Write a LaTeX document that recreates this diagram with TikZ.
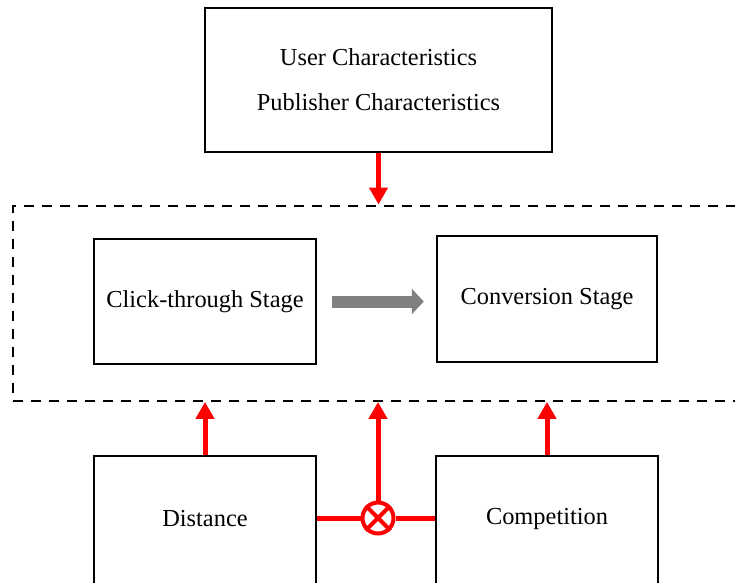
\documentclass[tikz,border=0pt]{standalone}
\usepackage{fontspec}
\setmainfont{Liberation Serif}
\usetikzlibrary{arrows.meta}
\begin{document}
\begin{tikzpicture}[x=1pt,y=1pt,
  box/.style={draw=black,line width=2.5pt,minimum width=#1,inner sep=0pt},
  txt/.style={font=\fontsize{24.4}{45}\selectfont,align=center,inner sep=0pt},
  redarrow/.style={draw=red,line width=5pt,-{Triangle[length=17pt,width=18pt]}},
  redline/.style={draw=red,line width=5pt},
  grayarrow/.style={draw={rgb,255:red,128;green,128;blue,128},line width=12pt,-{Triangle[length=12pt,width=25pt]}}
]
\useasboundingbox (0,0) rectangle (735,-582);
\clip (0,0) rectangle (735,-582);
% dashed container
\node[draw=black,line width=2.4pt,dash pattern=on 10pt off 8pt,minimum width=732pt,minimum height=195pt,inner sep=0pt] (dash) at (379,-303.2) {};
% boxes
\node[box=347pt,minimum height=144pt,txt] (top) at (378.5,-80) {User Characteristics\\Publisher Characteristics};
\node[box=222pt,minimum height=125pt,txt] (click) at (205,-301.5) {Click-through Stage};
\node[box=220pt,minimum height=126pt,txt] (conv) at (547,-299) {Conversion Stage};
\node[box=222pt,minimum height=144pt] (dist) at (205,-528) {};
\node[txt] (distT) at (205,-519) {Distance};
\node[box=222pt,minimum height=144pt] (comp) at (547,-528) {};
\node[txt] (compT) at (547,-519) {Competition};
% otimes
\node[circle,draw=red,line width=4pt,minimum size=31pt,inner sep=0pt] (ot) at (378,-518) {};
\draw[red,line width=4pt] (ot.north east) -- (ot.south west) (ot.north west) -- (ot.south east);
% connectors
\draw[redarrow] (top.south) -- (top.south |- dash.north);
\draw[redarrow] (dist.north) -- (dist.north |- dash.south);
\draw[redarrow] (comp.north) -- (comp.north |- dash.south);
\draw[redarrow] (ot.north) -- (ot.north |- dash.south);
\draw[redline] (dist.east |- ot.center) -- (ot.west);
\draw[redline] (ot.east) -- (comp.west |- ot.center);
\coordinate (gs) at ([xshift=15pt]click.east);
\draw[grayarrow] (gs) -- ([xshift=-12pt]conv.west |- gs);
\end{tikzpicture}
\end{document}
